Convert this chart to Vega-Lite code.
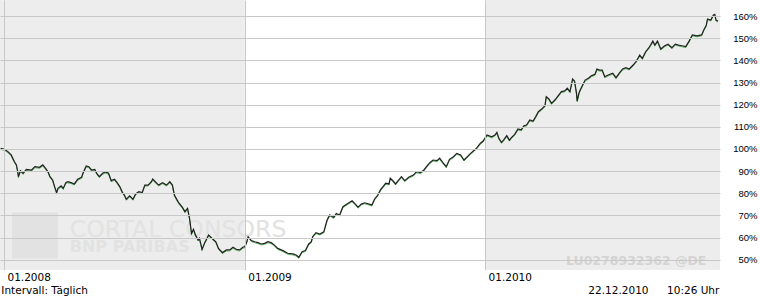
{
  "$schema": "https://vega.github.io/schema/vega-lite/v6.json",
  "width": 720,
  "height": 270,
  "autosize": {"type": "none"},
  "padding": {"left": 0, "top": 0, "right": 40, "bottom": 29},
  "background": "white",
  "config": {"view": {"stroke": null}},
  "layer": [
    {
      "data": {
        "values": [
          {"s": "2007-12-26", "e": "2009-01-01"},
          {"s": "2010-01-01", "e": "2010-12-24"}
        ],
        "format": {"parse": {"s": "utc:'%Y-%m-%d'", "e": "utc:'%Y-%m-%d'"}}
      },
      "mark": {"type": "rect", "color": "#ededed"},
      "encoding": {
        "x": {
          "field": "s", "type": "temporal",
          "scale": {"type": "utc", "domain": [{"year": 2007, "month": 12, "date": 26, "utc": true}, {"year": 2010, "month": 12, "date": 24, "utc": true}]},
          "axis": {
            "values": [{"year": 2008, "month": 1, "date": 1, "utc": true}, {"year": 2009, "month": 1, "date": 1, "utc": true}, {"year": 2010, "month": 1, "date": 1, "utc": true}],
            "tickCount": 10,
            "labelExpr": "utcFormat(datum.value, '%m.%Y')",
            "grid": true, "gridColor": "#c8c8c8", "gridWidth": 1,
            "domain": false, "ticks": false,
            "labelAlign": "left", "labelOffset": 3, "labelPadding": 10, "labelBaseline": "alphabetic",
            "labelFont": "DejaVu Sans", "labelFontSize": 10.5, "labelColor": "#000000",
            "labelFlush": false, "labelOverlap": false,
            "title": null, "zindex": 1
          }
        },
        "x2": {"field": "e"}
      }
    },
    {
      "data": {"values": [{}]},
      "mark": {"type": "square", "size": 2116, "color": "#e2e2e2", "opacity": 1},
      "encoding": {
        "x": {"datum": {"year": 2008, "month": 2, "date": 17, "utc": true}, "type": "temporal", "scale": {"type": "utc"}},
        "y": {"datum": 60.9, "type": "quantitative"}
      }
    },
    {
      "data": {"values": [{}]},
      "mark": {"type": "text", "text": "CORTAL CONSORS", "align": "left", "baseline": "alphabetic", "font": "DejaVu Sans", "fontSize": 23.6, "color": "#e2e2e2"},
      "encoding": {
        "x": {"datum": {"year": 2008, "month": 4, "date": 10, "utc": true}, "type": "temporal", "scale": {"type": "utc"}},
        "y": {"datum": 60.25, "type": "quantitative"}
      }
    },
    {
      "data": {"values": [{}]},
      "mark": {"type": "text", "text": "BNP PARIBAS", "align": "left", "baseline": "alphabetic", "font": "DejaVu Sans", "fontWeight": "bold", "fontSize": 16, "color": "#e2e2e2"},
      "encoding": {
        "x": {"datum": {"year": 2008, "month": 4, "date": 10, "utc": true}, "type": "temporal", "scale": {"type": "utc"}},
        "y": {"datum": 53.3, "type": "quantitative"}
      }
    },
    {
      "data": {"values": [{}]},
      "mark": {"type": "text", "text": "LU0278932362 @DE", "align": "left", "baseline": "alphabetic", "font": "DejaVu Sans", "fontWeight": "bold", "fontSize": 12.5, "color": "#d4d4d4"},
      "encoding": {
        "x": {"datum": {"year": 2010, "month": 5, "date": 4, "utc": true}, "type": "temporal", "scale": {"type": "utc"}},
        "y": {"datum": 47.6, "type": "quantitative"}
      }
    },
    {
      "data": {"name": "series"},
      "mark": {"type": "line", "color": "#1a9a1a", "strokeWidth": 1, "yOffset": 1, "opacity": 0.7},
      "encoding": {
        "x": {"field": "d", "type": "temporal", "scale": {"type": "utc"}},
        "y": {"field": "v", "type": "quantitative"}
      }
    },
    {
      "data": {"name": "series"},
      "mark": {"type": "line", "color": "#222222", "strokeWidth": 1.2},
      "encoding": {
        "x": {"field": "d", "type": "temporal", "scale": {"type": "utc"}},
        "y": {
          "field": "v", "type": "quantitative",
          "scale": {"domain": [45.35, 167.25], "nice": false, "zero": false},
          "axis": {
            "orient": "right",
            "values": [50, 60, 70, 80, 90, 100, 110, 120, 130, 140, 150, 160],
            "tickCount": 30,
            "labelExpr": "datum.value + '%'",
            "grid": true, "gridColor": "#c8c8c8", "gridWidth": 1,
            "domain": false, "ticks": false,
            "labelAlign": "right", "labelPadding": 37, "labelBaseline": "middle",
            "labelFont": "Liberation Sans", "labelFontSize": 9.5, "labelColor": "#000000",
            "labelOverlap": false, "labelFlush": false,
            "title": null, "zindex": 1
          }
        }
      }
    },
    {
      "data": {"values": [{}]},
      "mark": {"type": "text", "text": "Intervall: Täglich", "align": "left", "baseline": "alphabetic", "font": "DejaVu Sans", "fontSize": 10.5, "color": "#000000"},
      "encoding": {
        "x": {"datum": {"year": 2007, "month": 12, "date": 28, "utc": true}, "type": "temporal", "scale": {"type": "utc"}},
        "y": {"datum": 34.4, "type": "quantitative"}
      }
    },
    {
      "data": {"values": [{}]},
      "mark": {"type": "text", "text": "22.12.2010", "align": "left", "baseline": "alphabetic", "font": "DejaVu Sans", "fontSize": 10.5, "color": "#000000"},
      "encoding": {
        "x": {"datum": {"year": 2010, "month": 6, "date": 7, "utc": true}, "type": "temporal", "scale": {"type": "utc"}},
        "y": {"datum": 34.4, "type": "quantitative"}
      }
    },
    {
      "data": {"values": [{}]},
      "mark": {"type": "text", "text": "10:26 Uhr", "align": "right", "baseline": "alphabetic", "font": "DejaVu Sans", "fontSize": 10.5, "color": "#000000"},
      "encoding": {
        "x": {"datum": {"year": 2010, "month": 12, "date": 23, "utc": true}, "type": "temporal", "scale": {"type": "utc"}},
        "y": {"datum": 34.4, "type": "quantitative"}
      }
    }
  ],
  "datasets": {
    "series": [
      {"d": "2007-12-27", "v": 100.3}, {"d": "2008-01-02", "v": 99.8}, {"d": "2008-01-07", "v": 98.8}, {"d": "2008-01-12", "v": 97.3},
      {"d": "2008-01-17", "v": 94.2}, {"d": "2008-01-20", "v": 92.8}, {"d": "2008-01-22", "v": 89.7}, {"d": "2008-01-23", "v": 87.5},
      {"d": "2008-01-26", "v": 90.2}, {"d": "2008-01-30", "v": 89.0}, {"d": "2008-02-04", "v": 90.8}, {"d": "2008-02-12", "v": 90.5},
      {"d": "2008-02-17", "v": 92.0}, {"d": "2008-02-24", "v": 91.7}, {"d": "2008-02-29", "v": 92.8}, {"d": "2008-03-04", "v": 91.3},
      {"d": "2008-03-08", "v": 89.7}, {"d": "2008-03-11", "v": 87.5}, {"d": "2008-03-15", "v": 86.0}, {"d": "2008-03-18", "v": 83.0},
      {"d": "2008-03-21", "v": 80.3}, {"d": "2008-03-23", "v": 82.2}, {"d": "2008-03-28", "v": 83.3}, {"d": "2008-03-31", "v": 82.2},
      {"d": "2008-04-04", "v": 84.8}, {"d": "2008-04-07", "v": 85.2}, {"d": "2008-04-12", "v": 84.8}, {"d": "2008-04-17", "v": 84.2},
      {"d": "2008-04-22", "v": 86.3}, {"d": "2008-04-28", "v": 87.2}, {"d": "2008-04-30", "v": 89.0}, {"d": "2008-05-05", "v": 92.3},
      {"d": "2008-05-09", "v": 92.0}, {"d": "2008-05-13", "v": 90.5}, {"d": "2008-05-18", "v": 90.8}, {"d": "2008-05-21", "v": 89.0},
      {"d": "2008-05-25", "v": 87.5}, {"d": "2008-05-30", "v": 89.0}, {"d": "2008-06-03", "v": 89.6}, {"d": "2008-06-08", "v": 89.0},
      {"d": "2008-06-12", "v": 85.7}, {"d": "2008-06-17", "v": 86.3}, {"d": "2008-06-21", "v": 84.8}, {"d": "2008-06-25", "v": 83.0},
      {"d": "2008-06-29", "v": 80.4}, {"d": "2008-07-02", "v": 79.2}, {"d": "2008-07-05", "v": 77.3}, {"d": "2008-07-10", "v": 78.8},
      {"d": "2008-07-15", "v": 77.3}, {"d": "2008-07-19", "v": 79.7}, {"d": "2008-07-24", "v": 80.7}, {"d": "2008-07-29", "v": 80.3},
      {"d": "2008-08-02", "v": 83.7}, {"d": "2008-08-07", "v": 83.7}, {"d": "2008-08-12", "v": 85.2}, {"d": "2008-08-14", "v": 86.4},
      {"d": "2008-08-18", "v": 85.2}, {"d": "2008-08-23", "v": 83.7}, {"d": "2008-08-29", "v": 84.8}, {"d": "2008-09-04", "v": 83.7},
      {"d": "2008-09-09", "v": 85.2}, {"d": "2008-09-13", "v": 83.7}, {"d": "2008-09-16", "v": 79.2}, {"d": "2008-09-20", "v": 77.0},
      {"d": "2008-09-23", "v": 75.5}, {"d": "2008-09-28", "v": 73.7}, {"d": "2008-10-02", "v": 71.7}, {"d": "2008-10-06", "v": 73.2},
      {"d": "2008-10-09", "v": 68.7}, {"d": "2008-10-12", "v": 61.9}, {"d": "2008-10-15", "v": 63.7}, {"d": "2008-10-18", "v": 61.2},
      {"d": "2008-10-22", "v": 58.9}, {"d": "2008-10-24", "v": 59.7}, {"d": "2008-10-28", "v": 54.7}, {"d": "2008-11-01", "v": 57.7},
      {"d": "2008-11-07", "v": 61.2}, {"d": "2008-11-12", "v": 59.7}, {"d": "2008-11-18", "v": 58.1}, {"d": "2008-11-22", "v": 55.1},
      {"d": "2008-11-28", "v": 53.2}, {"d": "2008-12-04", "v": 54.4}, {"d": "2008-12-09", "v": 54.4}, {"d": "2008-12-14", "v": 55.6},
      {"d": "2008-12-19", "v": 54.7}, {"d": "2008-12-24", "v": 54.4}, {"d": "2008-12-29", "v": 55.6}, {"d": "2009-01-01", "v": 55.9},
      {"d": "2009-01-04", "v": 58.1}, {"d": "2009-01-06", "v": 60.4}, {"d": "2009-01-11", "v": 58.6}, {"d": "2009-01-16", "v": 58.1},
      {"d": "2009-01-21", "v": 57.7}, {"d": "2009-01-26", "v": 57.1}, {"d": "2009-01-31", "v": 57.4}, {"d": "2009-02-05", "v": 58.1},
      {"d": "2009-02-10", "v": 57.7}, {"d": "2009-02-15", "v": 56.6}, {"d": "2009-02-20", "v": 55.1}, {"d": "2009-02-28", "v": 54.1},
      {"d": "2009-03-07", "v": 52.9}, {"d": "2009-03-15", "v": 52.6}, {"d": "2009-03-20", "v": 52.1}, {"d": "2009-03-24", "v": 51.1},
      {"d": "2009-03-29", "v": 53.6}, {"d": "2009-04-03", "v": 54.1}, {"d": "2009-04-08", "v": 57.1}, {"d": "2009-04-12", "v": 58.1},
      {"d": "2009-04-14", "v": 60.4}, {"d": "2009-04-19", "v": 62.2}, {"d": "2009-04-25", "v": 61.6}, {"d": "2009-05-01", "v": 62.6},
      {"d": "2009-05-06", "v": 67.9}, {"d": "2009-05-10", "v": 70.2}, {"d": "2009-05-16", "v": 69.1}, {"d": "2009-05-20", "v": 70.9},
      {"d": "2009-05-25", "v": 70.2}, {"d": "2009-05-30", "v": 73.9}, {"d": "2009-06-07", "v": 75.5}, {"d": "2009-06-13", "v": 76.6},
      {"d": "2009-06-18", "v": 75.1}, {"d": "2009-06-22", "v": 73.7}, {"d": "2009-06-27", "v": 75.1}, {"d": "2009-07-02", "v": 75.7},
      {"d": "2009-07-09", "v": 75.1}, {"d": "2009-07-13", "v": 74.7}, {"d": "2009-07-17", "v": 77.3}, {"d": "2009-07-22", "v": 79.2},
      {"d": "2009-07-26", "v": 81.5}, {"d": "2009-07-30", "v": 83.0}, {"d": "2009-08-03", "v": 84.5}, {"d": "2009-08-08", "v": 84.2},
      {"d": "2009-08-10", "v": 86.8}, {"d": "2009-08-14", "v": 85.7}, {"d": "2009-08-18", "v": 84.2}, {"d": "2009-08-22", "v": 85.7},
      {"d": "2009-08-27", "v": 87.5}, {"d": "2009-09-01", "v": 85.7}, {"d": "2009-09-07", "v": 87.2}, {"d": "2009-09-14", "v": 88.2},
      {"d": "2009-09-19", "v": 89.7}, {"d": "2009-09-25", "v": 89.3}, {"d": "2009-09-30", "v": 90.5}, {"d": "2009-10-04", "v": 92.0},
      {"d": "2009-10-09", "v": 93.8}, {"d": "2009-10-14", "v": 95.0}, {"d": "2009-10-20", "v": 94.7}, {"d": "2009-10-24", "v": 95.8},
      {"d": "2009-10-29", "v": 93.8}, {"d": "2009-11-03", "v": 92.0}, {"d": "2009-11-08", "v": 95.3}, {"d": "2009-11-14", "v": 96.5},
      {"d": "2009-11-19", "v": 98.0}, {"d": "2009-11-25", "v": 97.3}, {"d": "2009-11-30", "v": 95.0}, {"d": "2009-12-04", "v": 96.2},
      {"d": "2009-12-10", "v": 98.0}, {"d": "2009-12-16", "v": 99.5}, {"d": "2009-12-20", "v": 100.7}, {"d": "2009-12-25", "v": 102.6},
      {"d": "2009-12-29", "v": 103.6}, {"d": "2010-01-04", "v": 106.3}, {"d": "2010-01-11", "v": 105.5}, {"d": "2010-01-16", "v": 106.3},
      {"d": "2010-01-19", "v": 107.5}, {"d": "2010-01-22", "v": 104.8}, {"d": "2010-01-26", "v": 103.0}, {"d": "2010-01-29", "v": 104.0},
      {"d": "2010-02-03", "v": 106.0}, {"d": "2010-02-07", "v": 104.0}, {"d": "2010-02-10", "v": 105.1}, {"d": "2010-02-15", "v": 106.6},
      {"d": "2010-02-20", "v": 109.0}, {"d": "2010-02-25", "v": 108.6}, {"d": "2010-03-01", "v": 110.5}, {"d": "2010-03-05", "v": 110.8},
      {"d": "2010-03-10", "v": 113.1}, {"d": "2010-03-15", "v": 112.6}, {"d": "2010-03-19", "v": 114.6}, {"d": "2010-03-23", "v": 116.8},
      {"d": "2010-03-28", "v": 118.0}, {"d": "2010-04-02", "v": 119.5}, {"d": "2010-04-04", "v": 123.6}, {"d": "2010-04-08", "v": 122.6},
      {"d": "2010-04-12", "v": 120.6}, {"d": "2010-04-17", "v": 122.1}, {"d": "2010-04-22", "v": 124.0}, {"d": "2010-04-27", "v": 125.9},
      {"d": "2010-05-02", "v": 126.2}, {"d": "2010-05-06", "v": 127.4}, {"d": "2010-05-10", "v": 125.9}, {"d": "2010-05-14", "v": 131.6},
      {"d": "2010-05-17", "v": 130.7}, {"d": "2010-05-20", "v": 125.1}, {"d": "2010-05-21", "v": 121.7}, {"d": "2010-05-24", "v": 125.6},
      {"d": "2010-05-28", "v": 128.1}, {"d": "2010-06-02", "v": 131.1}, {"d": "2010-06-07", "v": 131.9}, {"d": "2010-06-12", "v": 133.1},
      {"d": "2010-06-17", "v": 133.7}, {"d": "2010-06-20", "v": 136.1}, {"d": "2010-06-24", "v": 135.6}, {"d": "2010-06-28", "v": 135.6},
      {"d": "2010-07-02", "v": 132.6}, {"d": "2010-07-07", "v": 133.4}, {"d": "2010-07-14", "v": 134.2}, {"d": "2010-07-19", "v": 132.2},
      {"d": "2010-07-24", "v": 134.2}, {"d": "2010-07-29", "v": 136.1}, {"d": "2010-08-03", "v": 136.7}, {"d": "2010-08-08", "v": 136.1},
      {"d": "2010-08-14", "v": 137.9}, {"d": "2010-08-19", "v": 139.7}, {"d": "2010-08-24", "v": 142.4}, {"d": "2010-08-28", "v": 140.9},
      {"d": "2010-09-02", "v": 143.9}, {"d": "2010-09-07", "v": 145.7}, {"d": "2010-09-13", "v": 148.7}, {"d": "2010-09-16", "v": 146.9},
      {"d": "2010-09-20", "v": 148.7}, {"d": "2010-09-25", "v": 145.1}, {"d": "2010-10-01", "v": 146.6}, {"d": "2010-10-06", "v": 147.3},
      {"d": "2010-10-12", "v": 145.7}, {"d": "2010-10-17", "v": 147.3}, {"d": "2010-10-22", "v": 146.9}, {"d": "2010-10-27", "v": 146.6},
      {"d": "2010-11-02", "v": 146.2}, {"d": "2010-11-07", "v": 148.7}, {"d": "2010-11-12", "v": 151.5}, {"d": "2010-11-19", "v": 151.1},
      {"d": "2010-11-26", "v": 151.5}, {"d": "2010-11-30", "v": 154.2}, {"d": "2010-12-03", "v": 155.7}, {"d": "2010-12-05", "v": 158.7},
      {"d": "2010-12-10", "v": 158.2}, {"d": "2010-12-14", "v": 160.5}, {"d": "2010-12-16", "v": 160.8}, {"d": "2010-12-18", "v": 158.2},
      {"d": "2010-12-21", "v": 157.8}
    ]
  }
}
